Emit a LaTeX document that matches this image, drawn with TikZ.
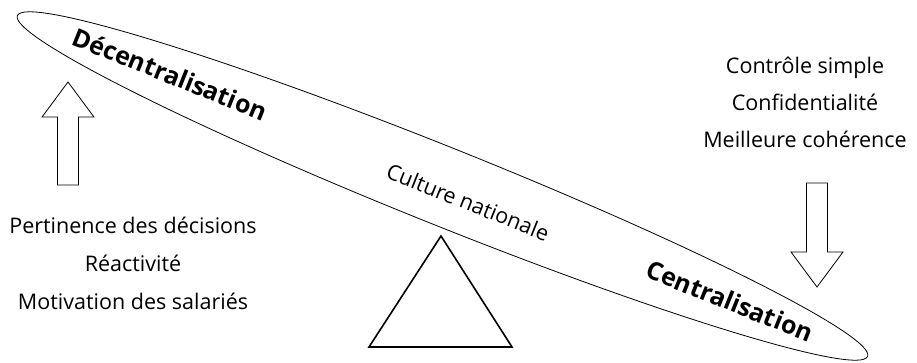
\documentclass[tikz,border=0pt]{standalone}
\usepackage{fontspec}
\setmainfont{Open Sans}
\usetikzlibrary{shapes.geometric}
\begin{document}
\begin{tikzpicture}[x=1pt,y=1pt,
  label/.style={font=\fontsize{21.5}{21.5}\selectfont, inner sep=0pt, anchor=base},
  pole/.style={font=\fontsize{25}{25}\selectfont\bfseries, inner sep=0pt, rotate=-21.84},
  outline/.style={draw=black, line width=0.8pt, line join=miter},
  beamstyle/.style={ellipse, draw=black, line width=0.8pt, inner sep=0pt,
    minimum width=916pt, minimum height=78pt, rotate=-21.84}]
\useasboundingbox (0,0) rectangle (917,-362);

% the balance beam
\node[beamstyle] (beam) at (442.5,-186) {};

% pivot under the beam
\draw[line width=1.6pt, line join=miter] (441,-236) -- (369,-347) -- (512,-347) -- cycle;

% ends of the beam
\node[pole] (dec) at (170,-74) {Décentralisation};
\node[pole] (cen) at (730,-301) {Centralisation};
\node[font=\fontsize{21.5}{21.5}\selectfont, inner sep=0pt, rotate=-21.84] (cult) at (468,-202) {Culture nationale};

% upward arrow on the left
\draw[outline] (57.5,-185) -- (57.5,-117) -- (42,-117) -- (68,-82)
  -- (94,-117) -- (78.5,-117) -- (78.5,-185) -- cycle;

% downward arrow on the right
\draw[outline] (806.5,-183) -- (806.5,-252) -- (791,-252) -- (817,-287)
  -- (843,-252) -- (827.5,-252) -- (827.5,-183) -- cycle;

% arguments for decentralisation
\node[label] (pert) at (133,-233) {Pertinence des décisions};
\node[label] (reac) at (133,-271) {Réactivité};
\node[label] (moti) at (133,-309) {Motivation des salariés};

% arguments for centralisation
\node[label] (ctrl) at (805,-73) {Contrôle simple};
\node[label] (conf) at (805,-110) {Confidentialité};
\node[label] (mcoh) at (805,-147) {Meilleure cohérence};
\end{tikzpicture}
\end{document}
